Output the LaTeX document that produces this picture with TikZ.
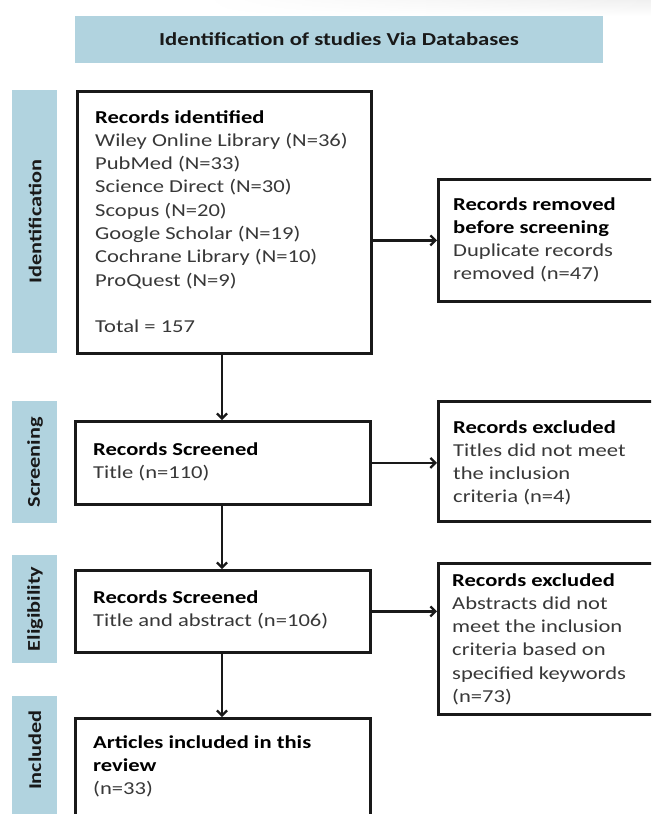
\documentclass[tikz,border=0pt]{standalone}
\usepackage{fontspec}
\setmainfont{Carlito}[FakeStretch=1.24]
\usetikzlibrary{arrows.meta,fadings}
\definecolor{barblue}{RGB}{177,211,223}
\definecolor{txtgray}{RGB}{56,56,56}
\newcommand{\boxlines}[1]{\begin{tabular}[t]{@{}l@{}}#1\end{tabular}}
\newcommand{\hd}[1]{\textbf{\color{black}#1}}
\tikzset{
  band/.style={fill=barblue, draw=none, inner sep=0pt},
  flowbox/.style={draw=black!90, line width=2.9pt, fill=white, inner sep=0pt, anchor=north west},
  boxtext/.style={anchor=base west, inner sep=0pt, text=txtgray, font=\fontsize{18.2}{23.3}\selectfont},
  bandlabel/.style={rotate=90, font=\fontsize{18}{22}\selectfont\bfseries, text=black!90, inner sep=0pt},
  conn/.style={line width=2.3pt, draw=black!90, -{Straight Barb[length=5pt,width=10pt,line width=2.3pt]}}
}
\begin{document}
\begin{tikzpicture}[x=1pt,y=-1pt]
\useasboundingbox (0,0) rectangle (651,814);
\clip (0,0) rectangle (651,814);
% faint shadow at top right
\shade[top color=black!6, bottom color=white, path fading=west] (200,0) rectangle (651,16);
% header
\node[band, minimum width=528pt, minimum height=47pt, anchor=north west] (hdr) at (75,16) {};
\node[font=\fontsize{18.3}{22}\selectfont\bfseries, text=black!90, anchor=base] (hdrtext) at (339,45) {Identification of studies Via Databases};
% side bands
\node[band, minimum width=45pt, minimum height=263pt, anchor=north west] (b1) at (12,90) {};
\node[band, minimum width=45pt, minimum height=122pt, anchor=north west] (b2) at (12,401) {};
\node[band, minimum width=45pt, minimum height=108pt, anchor=north west] (b3) at (12,555) {};
\node[band, minimum width=45pt, minimum height=130pt, anchor=north west] (b4) at (12,696) {};
\node[bandlabel] (l1) at (35,221.5) {Identification};
\node[bandlabel] (l2) at (35,462) {Screening};
\node[bandlabel] (l3) at (35,609) {Eligibility};
\node[bandlabel] (l4) at (35,750) {Included};
% boxes
\node[flowbox, minimum width=294pt, minimum height=262pt] (rec) at (76,90) {};
\node[flowbox, minimum width=230pt, minimum height=122pt] (rem) at (437,178) {};
\node[flowbox, minimum width=295pt, minimum height=83pt] (scr1) at (74,420) {};
\node[flowbox, minimum width=230pt, minimum height=120pt] (exc1) at (437,400) {};
\node[flowbox, minimum width=295pt, minimum height=82pt] (scr2) at (74,569) {};
\node[flowbox, minimum width=230pt, minimum height=151pt] (exc2) at (437,562) {};
\node[flowbox, minimum width=295pt, minimum height=120pt] (inc) at (74,717) {};
% texts
\node[boxtext] (trec) at (95,123) {\boxlines{\hd{Records identified}\\ Wiley Online Library (N=36)\\ PubMed (N=33)\\ Science Direct (N=30)\\ Scopus (N=20)\\ Google Scholar (N=19)\\ Cochrane Library (N=10)\\ ProQuest (N=9)\\ \\ Total = 157}};
\node[boxtext] (trem) at (453,210) {\boxlines{\hd{Records removed}\\ \hd{before screening}\\ Duplicate records\\ removed (n=47)}};
\node[boxtext] (tscr1) at (93,455) {\boxlines{\hd{Records Screened}\\ Title (n=110)}};
\node[boxtext] (texc1) at (453,433) {\boxlines{\hd{Records excluded}\\ Titles did not meet\\ the inclusion\\ criteria (n=4)}};
\node[boxtext] (tscr2) at (93,603) {\boxlines{\hd{Records Screened}\\ Title and abstract (n=106)}};
\node[boxtext] (texc2) at (452,586) {\boxlines{\hd{Records excluded}\\ Abstracts did not\\ meet the inclusion\\ criteria based on\\ specified keywords\\ (n=73)}};
\node[boxtext] (tinc) at (93,748) {\boxlines{\hd{Articles included in this}\\ \hd{review}\\ (n=33)}};
% connectors
\draw[conn] (rem.west -| rec.east) -- (rem.west);
\draw[conn] (scr1.east) -- (scr1.east -| exc1.west);
\draw[conn] (scr2.east) -- (scr2.east -| exc2.west);
\draw[conn] (rec.south -| 222,0) -- (scr1.north -| 222,0);
\draw[conn] (scr1.south -| 222,0) -- (scr2.north -| 222,0);
\draw[conn] (scr2.south -| 222,0) -- (inc.north -| 222,0);
\end{tikzpicture}
\end{document}
